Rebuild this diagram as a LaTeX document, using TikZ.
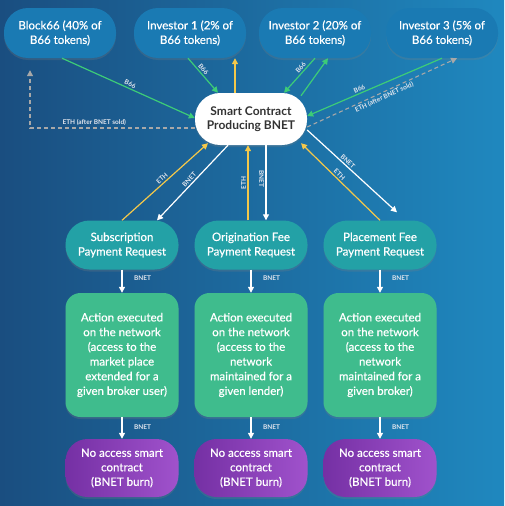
\documentclass[tikz,border=0pt]{standalone}
\usepackage{fontspec}
\setmainfont{Lato}
\newfontfamily\medfont{Lato}[FakeBold=0.5]
\usetikzlibrary{arrows.meta,shadows,calc}
\definecolor{bgL}{HTML}{1A4E80}
\definecolor{bgR}{HTML}{1F88BF}
\definecolor{invblue}{HTML}{1A7AB3}
\definecolor{teal}{HTML}{23A1A6}
\definecolor{actgreen}{HTML}{3FBC8D}
\definecolor{purL}{HTML}{7530A4}
\definecolor{purR}{HTML}{A052CC}
\definecolor{arrgreen}{HTML}{3DCC78}
\definecolor{arryellow}{HTML}{F4C84A}
\definecolor{arrgray}{HTML}{A8A8A8}
\definecolor{lblgray}{HTML}{E2E6EE}
\definecolor{sctext}{HTML}{333333}
\begin{document}
\begin{tikzpicture}[x=1pt,y=-1pt,
  box/.style={draw=none, align=center, text=white, inner sep=2pt,
    font=\medfont\fontsize{11.5}{14.5}\selectfont,
    drop shadow={opacity=0.25, shadow xshift=0pt, shadow yshift=-2pt}},
  inv/.style={box, fill=invblue, minimum width=112pt, minimum height=50pt, rounded corners=24pt},
  sc/.style={box, fill=white, text=sctext, minimum width=112pt, minimum height=52pt, rounded corners=25pt, font=\fontsize{12}{14}\selectfont\bfseries},
  req/.style={box, fill=teal, minimum width=113pt, minimum height=49pt, rounded corners=24pt},
  act/.style={box, fill=actgreen, minimum width=113pt, minimum height=124pt, rounded corners=15pt, font=\medfont\fontsize{11.5}{14.7}\selectfont},
  burn/.style={box, left color=purL, right color=purR, minimum width=113pt, minimum height=58pt, rounded corners=22pt},
  lbl/.style={font=\fontsize{6.5}{7}\selectfont\bfseries, text=lblgray, inner sep=1.5pt},
  tip/.style={-{Triangle[length=6pt,width=6pt]}},
  garr/.style={draw=arrgreen, line width=1.2pt, tip},
  yarr/.style={draw=arryellow, line width=1.2pt, tip},
  warr/.style={draw=white, line width=1.2pt, tip},
  darr/.style={draw=arrgray, line width=1.1pt, dashed, dash pattern=on 4pt off 3pt, tip}
]
\fill[left color=bgL, right color=bgR] (0,0) rectangle (504,506);
\useasboundingbox (0,0) rectangle (504,506);

\node[inv] (b66) at (60,33) {Block66 (40\% of\\B66 tokens)};
\node[inv] (inv1) at (190,33) {Investor 1 (2\% of\\B66 tokens)};
\node[inv] (inv2) at (315,33) {Investor 2 (20\% of\\B66 tokens)};
\node[inv] (inv3) at (442,33) {Investor 3 (5\% of\\B66 tokens)};

\node[sc] (sc) at (251,119) {Smart Contract\\Producing BNET};

\node[req] (r1) at (122,245) {Subscription\\Payment Request};
\node[req] (r2) at (251,245) {Origination Fee\\Payment Request};
\node[req] (r3) at (380,245) {Placement Fee\\Payment Request};

\node[act] (a1) at (122,355) {Action executed\\on the network\\(access to the\\market place\\extended for a\\given broker user)};
\node[act] (a2) at (251,355) {Action executed\\on the network\\(access to the\\network\\maintained for a\\given lender)};
\node[act] (a3) at (380,355) {Action executed\\on the network\\(access to the\\network\\maintained for a\\given broker)};

\node[burn] (p1) at (122,468) {No access smart\\contract\\(BNET burn)};
\node[burn] (p2) at (251,468) {No access smart\\contract\\(BNET burn)};
\node[burn] (p3) at (380,468) {No access smart\\contract\\(BNET burn)};

% top connectors
\draw[garr] ([xshift=2pt]b66.south) -- node[lbl, sloped, above, pos=0.5] {B66} ([yshift=1pt]sc.west);
\draw[garr] ([xshift=-2pt]inv1.south) -- node[lbl, sloped, above, pos=0.4] {B66} ([xshift=-33pt]sc.north);
\draw[yarr] ([xshift=-16pt]sc.north) -- ([xshift=-16pt]sc.north |- inv1.south);
\draw[garr] (inv2.south) -- node[lbl, sloped, above, pos=0.35] {B66} ([xshift=33pt]sc.north);
\draw[garr] ([xshift=50pt,yshift=-3pt]sc.north) -- ([xshift=13pt]inv2.south);
\draw[garr] (inv3.south) -- node[lbl, sloped, above, pos=0.6] {B66} ([yshift=3pt]sc.east);
\draw[darr] ([yshift=-8pt]sc.east) -- node[lbl, sloped, below, pos=0.5] {ETH (after BNET sold)} ([xshift=15pt]inv3.south);
\coordinate (dcorner) at (30,128);
\draw[darr] ([yshift=-9pt]sc.west) -- node[lbl, above, pos=0.61] {ETH (after BNET sold)} (dcorner) -- ([yshift=-12pt]dcorner |- b66.south);

% middle connectors
\draw[yarr] (r1.north) -- node[lbl, sloped, above, pos=0.5] {ETH} ([xshift=-43pt,yshift=2pt]sc.south);
\draw[warr] ([xshift=-23pt]sc.south) -- node[lbl, sloped, above, pos=0.5] {BNET} ([xshift=35pt]r1.north);
\draw[yarr] ([xshift=-3pt]r2.north) -- node[lbl, sloped, above, pos=0.5] {ETH} ([xshift=-3pt]r2.north |- sc.south);
\draw[warr] ([xshift=15pt]r2.north |- sc.south) -- node[lbl, sloped, below, pos=0.45] {BNET} ([xshift=15pt]r2.north);
\draw[warr] ([yshift=-11pt]sc.east) -- node[lbl, sloped, above, pos=0.42] {BNET} ([xshift=17pt,yshift=8pt]r3.north);
\draw[yarr] (r3.north) -- node[lbl, sloped, above, pos=0.55] {ETH} ([xshift=50pt,yshift=2pt]sc.south);

% bottom connectors
\foreach \i in {1,2,3}{
  \draw[warr] (r\i.south) -- node[lbl, right, xshift=10pt, pos=0.35] {BNET} (a\i.north);
  \draw[warr] (a\i.south) -- node[lbl, right, xshift=10pt, pos=0.45] {BNET} (p\i.north);
}
\end{tikzpicture}
\end{document}
